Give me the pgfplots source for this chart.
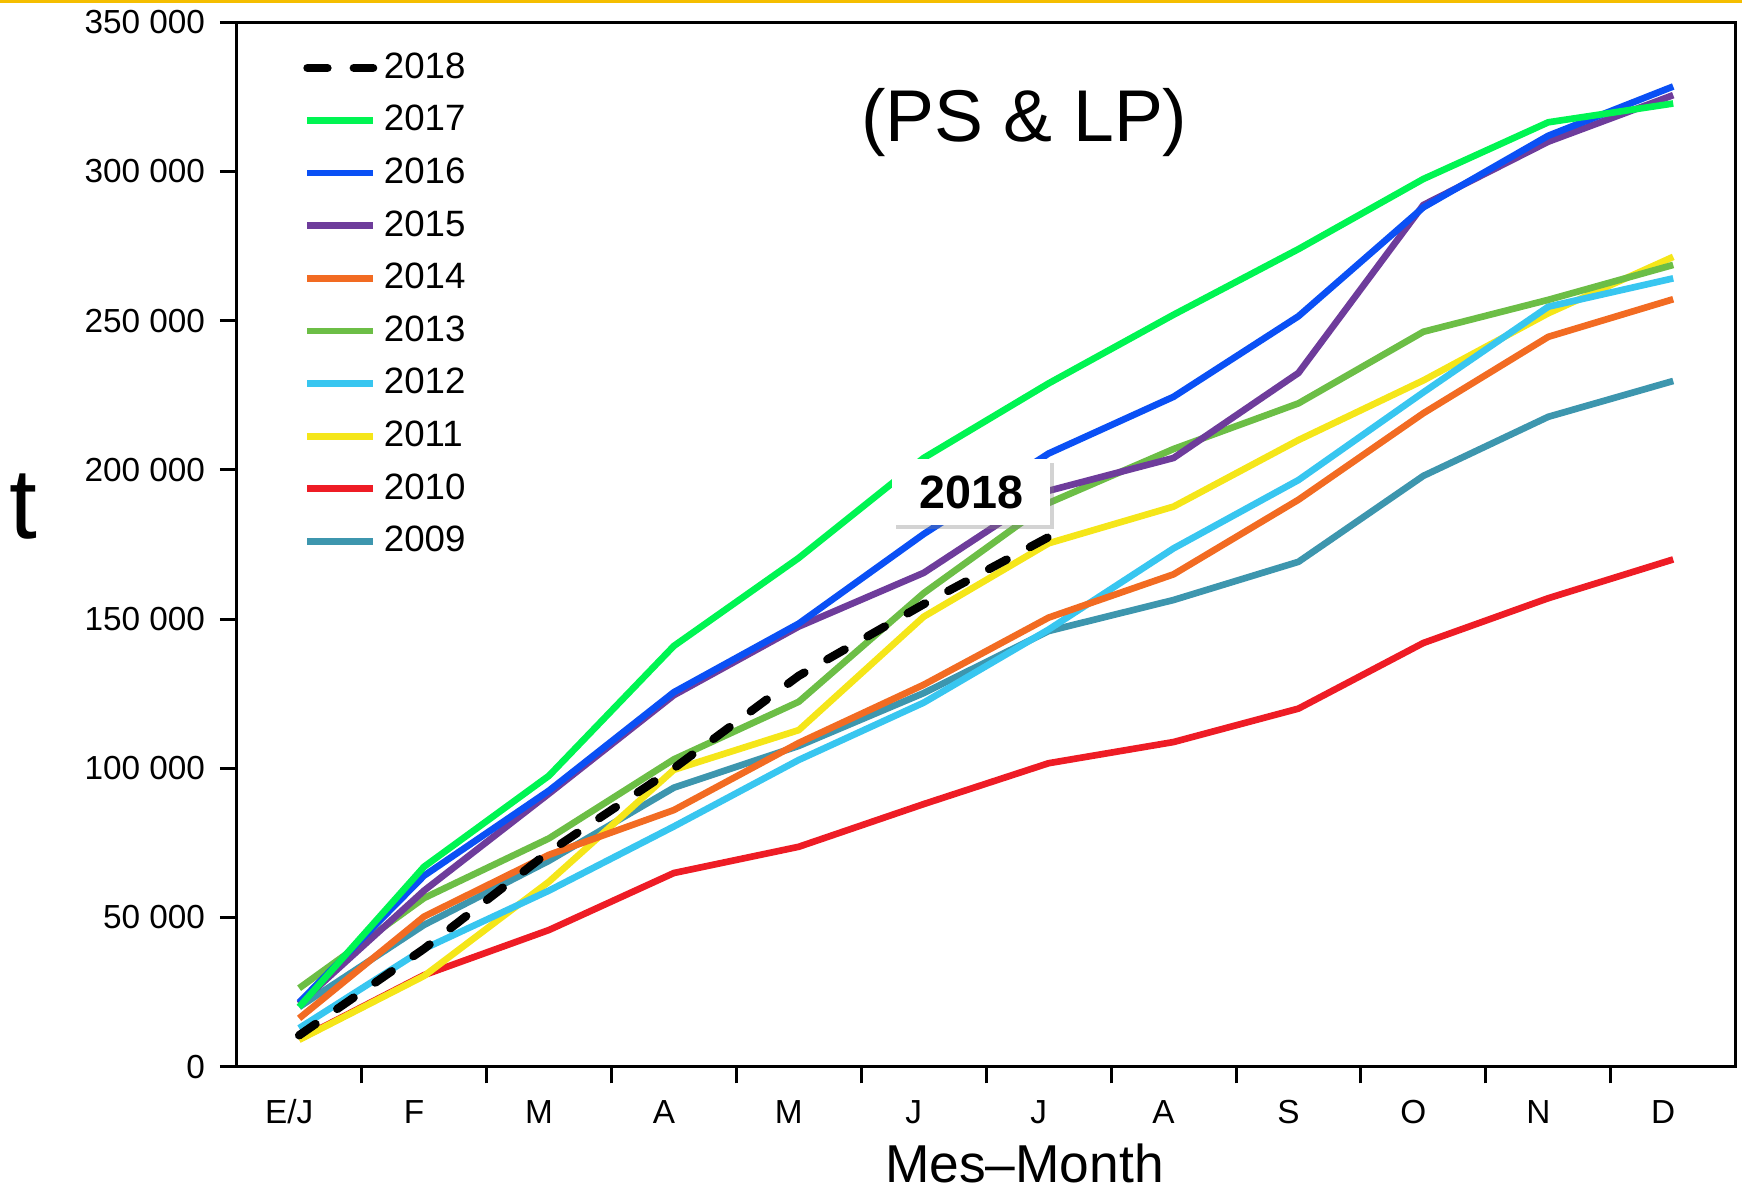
\documentclass[border=0pt]{standalone}
\usepackage{fontspec}
\setmainfont{Liberation Sans}
\usepackage{pgfplots}
\pgfplotsset{compat=1.18}
\usetikzlibrary{shadows}

\definecolor{c2017}{RGB}{0,245,82}
\definecolor{c2016}{RGB}{10,80,245}
\definecolor{c2015}{RGB}{110,60,155}
\definecolor{c2014}{RGB}{242,107,34}
\definecolor{c2013}{RGB}{108,190,70}
\definecolor{c2012}{RGB}{56,198,240}
\definecolor{c2011}{RGB}{245,230,25}
\definecolor{c2010}{RGB}{238,28,37}
\definecolor{c2009}{RGB}{61,150,174}
\definecolor{gold}{RGB}{245,190,0}

\begin{document}
\begin{tikzpicture}
\begin{axis}[
    scale only axis, width=449.7pt, height=313.3pt,
    xmin=-0.5, xmax=11.5, ymin=0, ymax=350000,
    axis line style={line width=1pt},
    tick style={black, line width=0.9pt},
    tick align=outside, major tick length=5pt,
    xtick pos=bottom, ytick pos=left,
    xtick={0.5,1.5,...,10.5}, xticklabels={},
    extra x ticks={0,...,11},
    extra x tick labels={E/J,F,M,A,M,J,J,A,S,O,N,D},
    extra x tick style={major tick length=0pt},
    ytick={0,50000,...,350000},
    yticklabels={0,50 000,100 000,150 000,200 000,250 000,300 000,350 000},
    yticklabel style={inner sep=1pt, xshift=-3.3pt},
    tick label style={font=\fontsize{10}{12}\selectfont},
    xticklabel style={anchor=base, yshift=-17pt, xshift=-3pt},
    xlabel={Mes–Month},
    every axis x label/.style={at={(rel axis cs:0.5255,0)}, anchor=center, yshift=-29pt, font=\fontsize{16}{19}\selectfont},
    ylabel={t},
    every axis y label/.style={at={(rel axis cs:0,0.536)}, anchor=center, xshift=-64pt, font=\fontsize{30}{34}\selectfont},
    title={(PS \& LP)},
    every axis title/.style={at={(rel axis cs:0.5255,0.904)}, anchor=center, font=\fontsize{22}{26}\selectfont},
    legend style={at={(rel axis cs:0.044,0.978)}, anchor=north west, draw=none, fill=none,
        font=\fontsize{11}{13}\selectfont, row sep=2.6pt, inner sep=0pt},
    legend cell align=left,
    legend image code/.code={\draw[#1] (0pt,0pt) -- (19.7pt,0pt);},
    reverse legend,
    every axis plot/.append style={line width=2pt, line join=round},
]
\addplot[c2009] coordinates {(0,20000) (1,47500) (2,69000) (3,93500) (4,107500) (5,125200) (6,146000) (7,156400) (8,169200) (9,198000) (10,217800) (11,229800)};
\addlegendentry{2009}
\addplot[c2010] coordinates {(0,9200) (1,30700) (2,45800) (3,64900) (4,73700) (5,88000) (6,101700) (7,108800) (8,120000) (9,142000) (10,157000) (11,170000)};
\addlegendentry{2010}
\addplot[c2011] coordinates {(0,9000) (1,30400) (2,62000) (3,99500) (4,112800) (5,150800) (6,175400) (7,187700) (8,210000) (9,230000) (10,252500) (11,271400)};
\addlegendentry{2011}
\addplot[c2012] coordinates {(0,12900) (1,39500) (2,59000) (3,80500) (4,102800) (5,122000) (6,146500) (7,173700) (8,196600) (9,226000) (10,254700) (11,264200)};
\addlegendentry{2012}
\addplot[c2013] coordinates {(0,26300) (1,56500) (2,76500) (3,103000) (4,122300) (5,158700) (6,188900) (7,207000) (8,222300) (9,246300) (10,257000) (11,268700)};
\addlegendentry{2013}
\addplot[c2014] coordinates {(0,16200) (1,50300) (2,71000) (3,86000) (4,108500) (5,128000) (6,150500) (7,165000) (8,190000) (9,219000) (10,244600) (11,257200)};
\addlegendentry{2014}
\addplot[c2015] coordinates {(0,21000) (1,59000) (2,91500) (3,124500) (4,147500) (5,165500) (6,193000) (7,204000) (8,232500) (9,288800) (10,310000) (11,325600)};
\addlegendentry{2015}
\addplot[c2016] coordinates {(0,21500) (1,64000) (2,92500) (3,125500) (4,148500) (5,178500) (6,205500) (7,224500) (8,251500) (9,288000) (10,312000) (11,328500)};
\addlegendentry{2016}
\addplot[c2017] coordinates {(0,20000) (1,67000) (2,97500) (3,141000) (4,170500) (5,204000) (6,229000) (7,252000) (8,274000) (9,297500) (10,316500) (11,322800)};
\addlegendentry{2017}
\addplot[black, line width=2.5pt, line cap=round, dash pattern=on 6pt off 7.9pt] coordinates {(0,10500) (1,39500) (2,72000) (3,100000) (4,131000) (5,155000) (6,177500)};
\addlegendentry{2018}
\node[fill=white, drop shadow={shadow xshift=1.2pt, shadow yshift=-1.2pt, opacity=0.35},
      minimum width=47.4pt, minimum height=19.7pt, inner sep=0pt,
      font=\bfseries\fontsize{14}{16}\selectfont] at (axis cs:5.38,192600) {2018};
\coordinate (sw) at (rel axis cs:0,0);
\coordinate (ne) at (rel axis cs:1,1);
\coordinate (nw) at (rel axis cs:0,1);
\end{axis}
\pgfresetboundingbox
\path[use as bounding box] ([xshift=-71pt,yshift=-36.7pt]sw) rectangle ([xshift=1.9pt,yshift=6.7pt]ne);
\draw[gold, line width=0.9pt] ([xshift=-71pt,yshift=6.25pt]nw) -- ([xshift=1.9pt,yshift=6.25pt]ne);
\end{tikzpicture}
\end{document}
